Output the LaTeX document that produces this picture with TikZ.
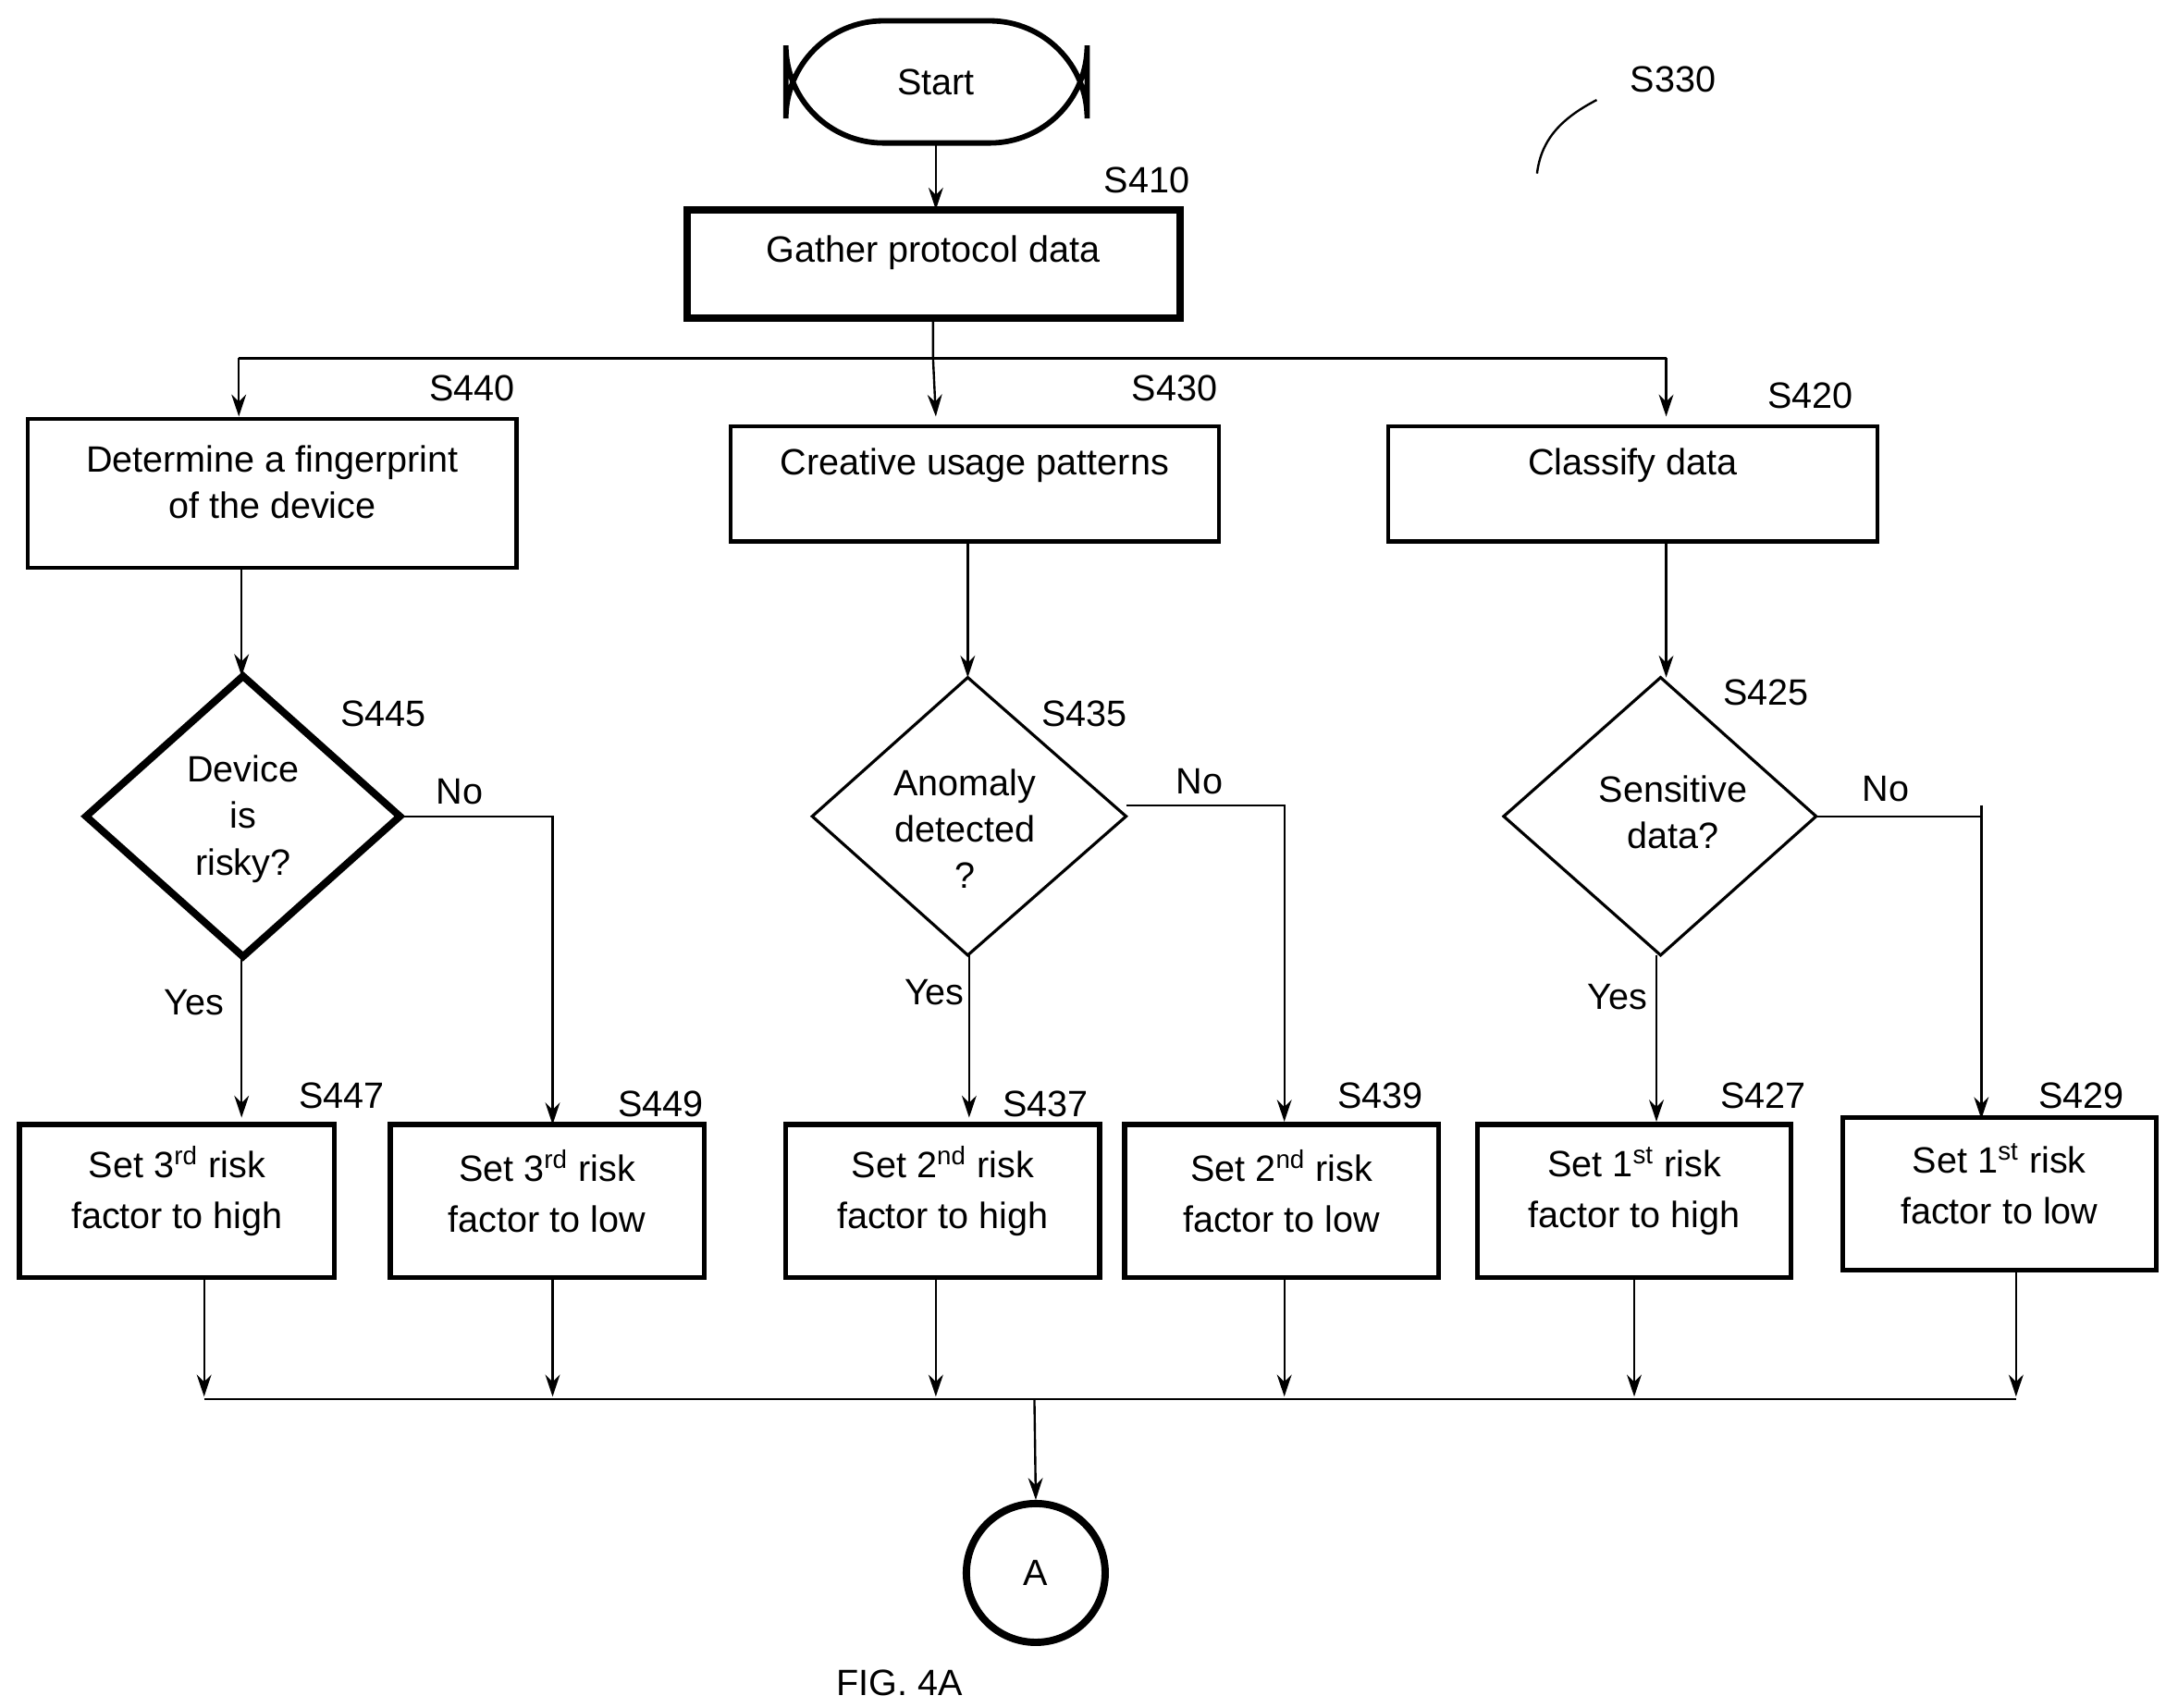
\documentclass[tikz,border=0pt]{standalone}
\usepackage{fontspec}
\setmainfont{Liberation Sans}
\usetikzlibrary{arrows.meta}
\begin{document}
\begin{tikzpicture}[x=0.02cm,y=-0.02cm,
  every node/.style={font=\fontsize{15}{19}\selectfont},
  box/.style={draw,line width=1.6pt,inner sep=0,align=center},
  dia/.style={draw,inner sep=0},
  lbl/.style={inner sep=0},
  arr/.style={-{Stealth[length=9pt,width=6pt]},line width=0.9pt},
  ln/.style={line width=0.9pt}]
\useasboundingbox (0,0) rectangle (1560,1230);
\draw[line width=2.2pt,rounded corners=40pt] (566,15) rectangle (783,103);
\node (start) at (674,59) {Start};
\coordinate (startb) at (674,103);
\draw[line width=3pt] (495,151) rectangle (850,229);
\node (g) at (672,182) {Gather protocol data};
\coordinate (gt) at (674,151);
\draw[arr] (startb) -- (gt);
\coordinate (gb) at (672,229);
\coordinate (j) at (672,258);
\coordinate (jl) at (172,258);
\coordinate (jr) at (1200,258);
\draw[arr] (gb) -- (j) -- (674,300);
\draw[arr] (jl) -- (172,300);
\draw[arr] (jr) -- (1200,300);
\draw[ln] (jl) -- (jr);
% row boxes
\draw[line width=1.6pt] (20,302) rectangle (372,409);
\node[align=center] (b440) at (196,347) {Determine a fingerprint\\of the device};
\draw[line width=1.6pt] (526,307) rectangle (878,390);
\node (b430) at (702,335) {Creative usage patterns};
\draw[line width=1.6pt] (1000,307) rectangle (1352,390);
\node (b420) at (1176,335) {Classify data};
% diamonds
\draw[line width=3pt] (175,487) -- (288,588) -- (175,689) -- (62,588) -- cycle;
\node[align=center] (d445) at (175,590) {Device\\is\\risky?};
\draw[line width=1.2pt] (697,488) -- (811,588) -- (697,688) -- (585,588) -- cycle;
\node[align=center] (d435) at (695,597) {Anomaly\\detected\\?};
\draw[line width=1.2pt] (1196,488) -- (1308,588) -- (1196,688) -- (1083,588) -- cycle;
\node[align=center] (d425) at (1205,585) {Sensitive\\data?};
\draw[arr] (174,409) -- (174,487);
\draw[arr] (697,390) -- (697,488);
\draw[arr] (1200,390) -- (1200,488);
% bottom boxes
\foreach \n/\a/\b/\t/\u/\s/\w in {
 a/14/241/810/920/{Set 3\textsuperscript{rd} risk}/{factor to high},
 b/281/507/810/920/{Set 3\textsuperscript{rd} risk}/{factor to low},
 c/566/792/810/920/{Set 2\textsuperscript{nd} risk}/{factor to high},
 d/810/1036/810/920/{Set 2\textsuperscript{nd} risk}/{factor to low},
 e/1064/1290/810/920/{Set 1\textsuperscript{st} risk}/{factor to high},
 f/1327/1553/805/915/{Set 1\textsuperscript{st} risk}/{factor to low}}{
 \draw[line width=2pt] (\a,\t) rectangle (\b,\u);
 \node[align=center] (\n) at ({(\a+\b)/2},{\t+48}) {\s\\[2pt]\w};
}
% yes/no
\draw[arr] (174,689) -- (174,805);
\draw[arr] (698,688) -- (698,805);
\draw[arr] (1193,688) -- (1193,808);
\draw[arr] (288,588) -- (398,588) -- (398,810);
\draw[arr] (811,580) -- (925,580) -- (925,808);
\draw[arr] (1308,588) -- (1427,588) -- (1427,806);
\draw[ln] (1427,580) -- (1427,588);
\foreach \x/\y in {147/920,398/920,674/920,925/920,1177/920,1452/915}
  \draw[arr] (\x,\y) -- (\x,1006);
\coordinate (bl) at (147,1008);
\coordinate (br) at (1452,1008);
\draw[ln] (bl) -- (br);
\node[draw,circle,line width=3pt,minimum size=2cm,inner sep=0] (A) at (746,1133) {A};
\draw[arr] (745,1008) -- (A.north);
\node[lbl] at (648,1212) {FIG. 4A};
\node[lbl] at (1205,57) {S330};
\draw[ln] (1107,125) .. controls (1110,100) and (1125,85) .. (1150,72);
\foreach \t/\x/\y in {S410/826/130,S440/340/280,S430/846/280,S420/1304/285,S445/276/514,S435/781/514,S425/1272/499,S447/246/789,S449/476/795,S437/753/795,S439/994/789,S427/1270/789,S429/1499/789,No/331/570,No/864/563,No/1358/568,Yes/140/722,Yes/673/715,Yes/1165/718}
  \node[lbl] at (\x,\y) {\t};
\end{tikzpicture}
\end{document}
